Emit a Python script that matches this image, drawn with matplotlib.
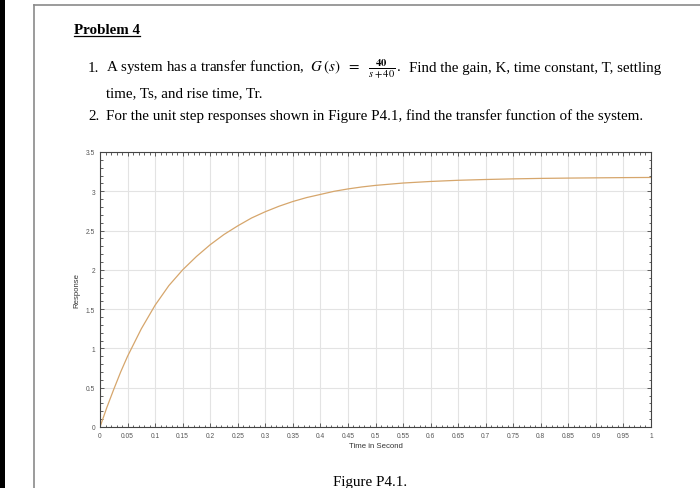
import matplotlib
matplotlib.use("Agg")
import matplotlib.pyplot as plt
from matplotlib.lines import Line2D
from matplotlib.patches import Rectangle
from matplotlib.ticker import MultipleLocator

# step response
time_s = [0, 0.0125, 0.025, 0.0375, 0.05, 0.075, 0.1, 0.125, 0.15, 0.175, 0.2,
          0.225, 0.25, 0.275, 0.3, 0.325, 0.35, 0.375, 0.4, 0.425, 0.45, 0.475,
          0.5, 0.55, 0.6, 0.65, 0.7, 0.75, 0.8, 0.85, 0.9, 0.95, 1.0]
response = [0, 0.25, 0.48, 0.70, 0.90, 1.25, 1.55, 1.80, 2.00, 2.17, 2.32,
            2.45, 2.56, 2.66, 2.74, 2.81, 2.87, 2.92, 2.96, 3.00, 3.03, 3.055,
            3.075, 3.105, 3.125, 3.14, 3.15, 3.158, 3.164, 3.168, 3.171,
            3.174, 3.176]

x_ticks = [i * 0.05 for i in range(21)]
x_labels = ["0", "0.05", "0.1", "0.15", "0.2", "0.25", "0.3", "0.35", "0.4",
            "0.45", "0.5", "0.55", "0.6", "0.65", "0.7", "0.75", "0.8", "0.85",
            "0.9", "0.95", "1"]
y_ticks = [0, 0.5, 1, 1.5, 2, 2.5, 3, 3.5]
y_labels = ["0", "0.5", "1", "1.5", "2", "2.5", "3", "3.5"]

W, H = 700, 489


def px(x, y):
    return x / W, 1 - y / H


plt.rcParams['mathtext.fontset'] = 'stix'
fig = plt.figure(figsize=(W / 100, H / 100), dpi=100)
fig.patch.set_facecolor('white')

# page edges
fig.add_artist(Rectangle((0, 0), 4.5 / W, 1, transform=fig.transFigure,
                         color='black', lw=0))
x0, y0 = px(34, 6)
fig.add_artist(Line2D([x0, x0], [0, y0], transform=fig.transFigure,
                      color='#8a8a8a', lw=1.2))
fig.add_artist(Line2D([x0, 1], [y0, y0], transform=fig.transFigure,
                      color='#8a8a8a', lw=1.2))

serif = 'Liberation Serif'
fs = 10.8

# problem text (first line is justified to the right margin)
title = fig.text(*px(74, 34), "Problem 4", family=serif, size=fs,
                 weight='bold', va='baseline')
fig.text(*px(88, 72), "1.", family=serif, size=fs, va='baseline')
fig.text(*px(106, 72),
         r"A system has a transfer function,  "
         r"$G\,(s)\ \ =\ \ \frac{\mathbf{40}}{s+40}\,$.",
         family=serif, size=fs, va='baseline')
fig.text(*px(661, 72), "Find the gain, K, time constant, T, settling",
         family=serif, size=fs, va='baseline', ha='right')
fig.text(*px(106, 97), "time, Ts, and rise time, Tr.", family=serif,
         size=fs, va='baseline')
fig.text(*px(88, 120), "2.", family=serif, size=fs, va='baseline')
fig.text(*px(106, 120),
         "For the unit step responses shown in Figure P4.1, find the transfer "
         "function of the system.", family=serif, size=fs, va='baseline')
fig.text(*px(333, 486), "Figure P4.1.", family=serif, size=fs, va='baseline')

# underline under the title
r = fig.canvas.get_renderer()
bb = title.get_window_extent(r).transformed(fig.transFigure.inverted())
uy = px(0, 37)[1]
fig.add_artist(Line2D([bb.x0, bb.x1], [uy, uy], transform=fig.transFigure,
                      color='black', lw=0.9))

# chart
ax = fig.add_axes([100 / W, 1 - 428 / H, 551 / W, 275 / H])
ax.plot(time_s, response, color='#d6a66c', lw=0.9)

ax.set_xlim(0, 1)
ax.set_ylim(0, 3.5)
ax.set_xticks(x_ticks)
ax.set_xticklabels(x_labels)
ax.set_yticks(y_ticks)
ax.set_yticklabels(y_labels)
ax.xaxis.set_minor_locator(MultipleLocator(0.01))
ax.yaxis.set_minor_locator(MultipleLocator(0.1))
ax.grid(True, which='major', color='#e3e3e3', lw=0.8)
ax.set_axisbelow(True)

sans = 'Liberation Sans'
ax.tick_params(which='both', direction='in', top=True, right=True,
               colors='#444444', labelcolor='#555555', labelsize=4.8,
               width=0.6)
ax.tick_params(which='major', length=3, pad=3.5)
ax.tick_params(which='minor', length=1.8)
for lab in ax.get_xticklabels() + ax.get_yticklabels():
    lab.set_family(sans)
for s in ax.spines.values():
    s.set_color('#444444')
    s.set_linewidth(0.8)

ax.set_xlabel("Time in Second", family=sans, size=5.6, color='#333333',
              labelpad=2)
ax.set_ylabel("Response", family=sans, size=5.6, color='#333333',
              labelpad=4)

fig.savefig("out.png", dpi=100)
